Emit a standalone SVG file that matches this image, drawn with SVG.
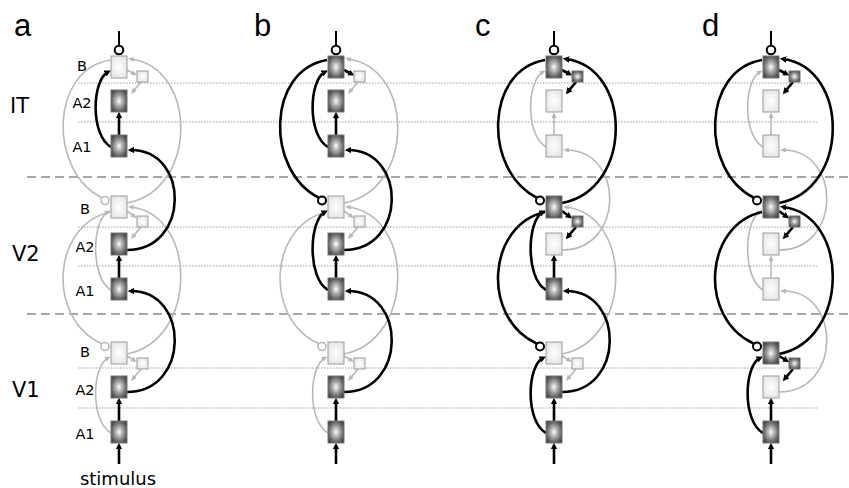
<svg xmlns="http://www.w3.org/2000/svg" width="849" height="488" viewBox="0 0 849 488">
<style>
.bg{fill:#fff}
.dash{stroke:#8a8a8a;stroke-width:1.6;stroke-dasharray:9 5;fill:none}
.dot{stroke:#9a9a9a;stroke-width:1;stroke-dasharray:1.5 1.5;fill:none}
.k{stroke:#000;stroke-width:2.6;fill:none;marker-end:url(#ak)}
.g{stroke:#b8b8b8;stroke-width:1.6;fill:none;marker-end:url(#ag)}
.kn{stroke:#000;stroke-width:2.6;fill:none}
.gn{stroke:#b8b8b8;stroke-width:1.6;fill:none}
.in{stroke:#000;stroke-width:2;fill:none}
.ck{fill:#fff;stroke:#000;stroke-width:2}
.cg{fill:#fff;stroke:#b8b8b8;stroke-width:1.6}
.d{fill:url(#gd);stroke:#777;stroke-width:1}
.l{fill:url(#gl);stroke:#9c9c9c;stroke-width:1}
.pl{font-family:"Liberation Sans",Arial,sans-serif;font-size:31px;fill:#000}
.rl{font-family:"DejaVu Sans",sans-serif;font-size:21px;fill:#000}
.sl{font-family:"DejaVu Sans",sans-serif;font-size:14.5px;fill:#000;text-anchor:middle}
</style>
<defs>
<radialGradient id="gd" cx="50%" cy="50%" r="62%">
<stop offset="0" stop-color="#ffffff"/>
<stop offset="0.25" stop-color="#c4c4c4"/>
<stop offset="0.7" stop-color="#6c6c6c"/>
<stop offset="1" stop-color="#3e3e3e"/>
</radialGradient>
<radialGradient id="gl" cx="50%" cy="50%" r="65%">
<stop offset="0" stop-color="#ffffff"/>
<stop offset="1" stop-color="#e2e2e2"/>
</radialGradient>
<marker id="ak" viewBox="0 0 6 6" markerWidth="6.5" markerHeight="6.5" refX="3" refY="3" orient="auto" markerUnits="userSpaceOnUse">
<path d="M0,0 L6,3 L0,6 z" fill="#000"/>
</marker>
<marker id="ag" viewBox="0 0 6 5" markerWidth="6" markerHeight="5" refX="3" refY="2.5" orient="auto" markerUnits="userSpaceOnUse">
<path d="M0,0 L6,2.5 L0,5 z" fill="#b8b8b8"/>
</marker>
</defs>
<rect class="bg" x="0" y="0" width="849" height="488"/>

<g id="guides">
<line class="dash" x1="27" y1="177" x2="849" y2="177"/>
<line class="dash" x1="27" y1="314" x2="849" y2="314"/>
<line class="dot" x1="78" y1="83" x2="817" y2="83"/>
<line class="dot" x1="78" y1="122" x2="817" y2="122"/>
<line class="dot" x1="78" y1="227" x2="817" y2="227"/>
<line class="dot" x1="78" y1="266" x2="817" y2="266"/>
<line class="dot" x1="78" y1="368" x2="817" y2="368"/>
<line class="dot" x1="78" y1="408" x2="817" y2="408"/>
</g>

<g id="labels">
<text class="pl" x="14" y="36">a</text>
<text class="pl" x="254" y="36">b</text>
<text class="pl" x="475" y="36">c</text>
<text class="pl" x="702" y="36">d</text>
<text class="rl" x="10" y="113">IT</text>
<text class="rl" x="12" y="261">V2</text>
<text class="rl" x="12" y="397">V1</text>
<text class="sl" x="82" y="71">B</text>
<text class="sl" x="82" y="108">A2</text>
<text class="sl" x="82" y="152">A1</text>
<text class="sl" x="85" y="214">B</text>
<text class="sl" x="85" y="252">A2</text>
<text class="sl" x="85" y="296">A1</text>
<text class="sl" x="85" y="357">B</text>
<text class="sl" x="85" y="395">A2</text>
<text class="sl" x="85" y="439">A1</text>
<text class="sl" x="118" y="485" style="font-size:18px">stimulus</text>
</g>

<!-- ===== Panel a ===== -->
<g id="panel-a">
<g id="a-connectors">
<path class="g" d="M127,70 L134.5,74"/>
<path class="g" d="M141,82 L132.9,91.7"/>
<path class="g" d="M111,290 C90,278 92,220 108,212"/>
<path class="g" d="M127,211 L134.5,216.5"/>
<path class="g" d="M141,227 L132.9,236.7"/>
<path class="g" d="M111,433 C90,421 92,366 108,358"/>
<path class="g" d="M127,356 L134.5,360.5"/>
<path class="g" d="M141,369 L132.9,378.7"/>
<path class="gn" d="M110,60 C50,70 48,170 101.5,197.5"/>
<circle class="cg" cx="105" cy="200.5" r="4"/>
<path class="gn" d="M110,212 C52,225 46,318 101.5,343.5"/>
<circle class="cg" cx="105" cy="346.5" r="4"/>
<path class="g" d="M127,203 C198,190 198,68 131,59"/>
<path class="g" d="M127,354 C198,340 198,215 131,207"/>
<line class="in" x1="119" y1="31" x2="119" y2="45.5"/>
<circle class="ck" cx="119" cy="50" r="4.3"/>
<path class="k" d="M119,464 L119,446"/>
<path class="k" d="M119,135 L119,115"/>
<path class="k" d="M111,147 C90,135 92,80 108,72"/>
<path class="k" d="M119,278 L119,258"/>
<path class="k" d="M119,421 L119,401"/>
<path class="k" d="M127,250 C190,250 190,150 131,150"/>
<path class="k" d="M127,392 C190,392 190,291 131,291"/>
</g>
<g id="a-IT-B"><rect class="l" x="111" y="56" width="16" height="22"/></g>
<g id="a-IT-s"><rect class="l" x="137" y="71" width="11" height="11"/></g>
<g id="a-IT-A2"><rect class="d" x="111" y="90" width="16" height="22"/></g>
<g id="a-IT-A1"><rect class="d" x="111" y="135" width="16" height="22"/></g>
<g id="a-V2-B"><rect class="l" x="111" y="196" width="16" height="22"/></g>
<g id="a-V2-s"><rect class="l" x="137" y="216" width="11" height="11"/></g>
<g id="a-V2-A2"><rect class="d" x="111" y="233" width="16" height="22"/></g>
<g id="a-V2-A1"><rect class="d" x="111" y="278" width="16" height="22"/></g>
<g id="a-V1-B"><rect class="l" x="111" y="342" width="16" height="22"/></g>
<g id="a-V1-s"><rect class="l" x="137" y="358" width="11" height="11"/></g>
<g id="a-V1-A2"><rect class="d" x="111" y="376" width="16" height="22"/></g>
<g id="a-V1-A1"><rect class="d" x="111" y="421" width="16" height="22"/></g>
</g>

<!-- ===== Panel b ===== -->
<g id="panel-b" transform="translate(217,0)">
<g id="b-connectors">
<path class="g" d="M141,82 L132.9,91.7"/>
<path class="g" d="M127,211 L134.5,216.5"/>
<path class="g" d="M141,227 L132.9,236.7"/>
<path class="g" d="M111,433 C90,421 92,366 108,358"/>
<path class="g" d="M127,356 L134.5,360.5"/>
<path class="g" d="M141,369 L132.9,378.7"/>
<path class="gn" d="M110,212 C52,225 46,318 101.5,343.5"/>
<circle class="cg" cx="105" cy="346.5" r="4"/>
<path class="g" d="M127,203 C198,190 198,68 131,59"/>
<path class="g" d="M127,354 C198,340 198,215 131,207"/>
<line class="in" x1="119" y1="31" x2="119" y2="45.5"/>
<circle class="ck" cx="119" cy="50" r="4.3"/>
<path class="k" d="M119,464 L119,446"/>
<path class="k" d="M119,135 L119,115"/>
<path class="k" d="M111,147 C90,135 92,80 108,72"/>
<path class="k" d="M127,70 L134.5,74"/>
<path class="k" d="M119,278 L119,258"/>
<path class="k" d="M111,290 C90,278 92,220 108,212"/>
<path class="k" d="M119,421 L119,401"/>
<path class="k" d="M127,250 C190,250 190,150 131,150"/>
<path class="k" d="M127,392 C190,392 190,291 131,291"/>
<path class="kn" d="M110,60 C50,70 48,170 101.5,197.5"/>
<circle class="ck" cx="105" cy="200.5" r="4"/>
</g>
<g id="b-IT-B"><rect class="d" x="111" y="56" width="16" height="22"/></g>
<g id="b-IT-s"><rect class="l" x="137" y="71" width="11" height="11"/></g>
<g id="b-IT-A2"><rect class="d" x="111" y="90" width="16" height="22"/></g>
<g id="b-IT-A1"><rect class="d" x="111" y="135" width="16" height="22"/></g>
<g id="b-V2-B"><rect class="l" x="111" y="196" width="16" height="22"/></g>
<g id="b-V2-s"><rect class="l" x="137" y="216" width="11" height="11"/></g>
<g id="b-V2-A2"><rect class="d" x="111" y="233" width="16" height="22"/></g>
<g id="b-V2-A1"><rect class="d" x="111" y="278" width="16" height="22"/></g>
<g id="b-V1-B"><rect class="l" x="111" y="342" width="16" height="22"/></g>
<g id="b-V1-s"><rect class="l" x="137" y="358" width="11" height="11"/></g>
<g id="b-V1-A2"><rect class="d" x="111" y="376" width="16" height="22"/></g>
<g id="b-V1-A1"><rect class="d" x="111" y="421" width="16" height="22"/></g>
</g>

<!-- ===== Panel c ===== -->
<g id="panel-c" transform="translate(435,0)">
<g id="c-connectors">
<path class="g" d="M119,135 L119,115"/>
<path class="g" d="M111,147 C90,135 92,80 108,72"/>
<path class="g" d="M127,356 L134.5,360.5"/>
<path class="g" d="M141,369 L132.9,378.7"/>
<path class="g" d="M127,250 C190,250 190,150 131,150"/>
<path class="g" d="M127,354 C198,340 198,215 131,207"/>
<line class="in" x1="119" y1="31" x2="119" y2="45.5"/>
<circle class="ck" cx="119" cy="50" r="4.3"/>
<path class="k" d="M119,464 L119,446"/>
<path class="k" d="M127,70 L134.5,74"/>
<path class="k" d="M141,82 L132.9,91.7"/>
<path class="k" d="M119,278 L119,258"/>
<path class="k" d="M111,290 C90,278 92,220 108,212"/>
<path class="k" d="M127,211 L134.5,216.5"/>
<path class="k" d="M141,227 L132.9,236.7"/>
<path class="k" d="M119,421 L119,401"/>
<path class="k" d="M111,433 C90,421 92,366 108,358"/>
<path class="k" d="M127,392 C190,392 190,291 131,291"/>
<path class="k" d="M127,203 C198,190 198,68 131,59"/>
<path class="kn" d="M110,60 C50,70 48,170 101.5,197.5"/>
<circle class="ck" cx="105" cy="200.5" r="4"/>
<path class="kn" d="M110,212 C52,225 46,318 101.5,343.5"/>
<circle class="ck" cx="105" cy="346.5" r="4"/>
</g>
<g id="c-IT-B"><rect class="d" x="111" y="56" width="16" height="22"/></g>
<g id="c-IT-s"><rect class="d" x="137" y="71" width="11" height="11"/></g>
<g id="c-IT-A2"><rect class="l" x="111" y="90" width="16" height="22"/></g>
<g id="c-IT-A1"><rect class="l" x="111" y="135" width="16" height="22"/></g>
<g id="c-V2-B"><rect class="d" x="111" y="196" width="16" height="22"/></g>
<g id="c-V2-s"><rect class="d" x="137" y="216" width="11" height="11"/></g>
<g id="c-V2-A2"><rect class="l" x="111" y="233" width="16" height="22"/></g>
<g id="c-V2-A1"><rect class="d" x="111" y="278" width="16" height="22"/></g>
<g id="c-V1-B"><rect class="l" x="111" y="342" width="16" height="22"/></g>
<g id="c-V1-s"><rect class="l" x="137" y="358" width="11" height="11"/></g>
<g id="c-V1-A2"><rect class="d" x="111" y="376" width="16" height="22"/></g>
<g id="c-V1-A1"><rect class="d" x="111" y="421" width="16" height="22"/></g>
</g>

<!-- ===== Panel d ===== -->
<g id="panel-d" transform="translate(652,0)">
<g id="d-connectors">
<path class="g" d="M119,135 L119,115"/>
<path class="g" d="M111,147 C90,135 92,80 108,72"/>
<path class="g" d="M119,278 L119,258"/>
<path class="g" d="M111,290 C90,278 92,220 108,212"/>
<path class="g" d="M127,250 C190,250 190,150 131,150"/>
<path class="g" d="M127,392 C190,392 190,291 131,291"/>
<line class="in" x1="119" y1="31" x2="119" y2="45.5"/>
<circle class="ck" cx="119" cy="50" r="4.3"/>
<path class="k" d="M119,464 L119,446"/>
<path class="k" d="M127,70 L134.5,74"/>
<path class="k" d="M141,82 L132.9,91.7"/>
<path class="k" d="M127,211 L134.5,216.5"/>
<path class="k" d="M141,227 L132.9,236.7"/>
<path class="k" d="M119,421 L119,401"/>
<path class="k" d="M111,433 C90,421 92,366 108,358"/>
<path class="k" d="M127,356 L134.5,360.5"/>
<path class="k" d="M141,369 L132.9,378.7"/>
<path class="k" d="M127,203 C198,190 198,68 131,59"/>
<path class="k" d="M127,354 C198,340 198,215 131,207"/>
<path class="kn" d="M110,60 C50,70 48,170 101.5,197.5"/>
<circle class="ck" cx="105" cy="200.5" r="4"/>
<path class="kn" d="M110,212 C52,225 46,318 101.5,343.5"/>
<circle class="ck" cx="105" cy="346.5" r="4"/>
</g>
<g id="d-IT-B"><rect class="d" x="111" y="56" width="16" height="22"/></g>
<g id="d-IT-s"><rect class="d" x="137" y="71" width="11" height="11"/></g>
<g id="d-IT-A2"><rect class="l" x="111" y="90" width="16" height="22"/></g>
<g id="d-IT-A1"><rect class="l" x="111" y="135" width="16" height="22"/></g>
<g id="d-V2-B"><rect class="d" x="111" y="196" width="16" height="22"/></g>
<g id="d-V2-s"><rect class="d" x="137" y="216" width="11" height="11"/></g>
<g id="d-V2-A2"><rect class="l" x="111" y="233" width="16" height="22"/></g>
<g id="d-V2-A1"><rect class="l" x="111" y="278" width="16" height="22"/></g>
<g id="d-V1-B"><rect class="d" x="111" y="342" width="16" height="22"/></g>
<g id="d-V1-s"><rect class="d" x="137" y="358" width="11" height="11"/></g>
<g id="d-V1-A2"><rect class="l" x="111" y="376" width="16" height="22"/></g>
<g id="d-V1-A1"><rect class="d" x="111" y="421" width="16" height="22"/></g>
</g>
</svg>
